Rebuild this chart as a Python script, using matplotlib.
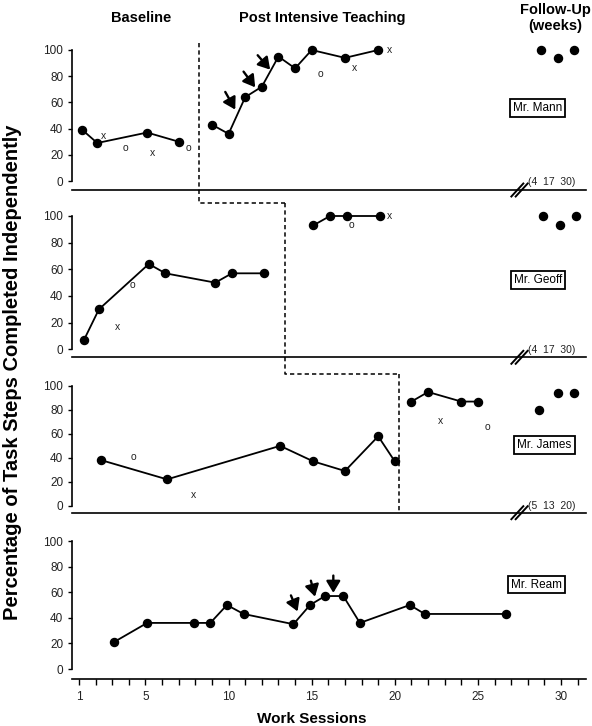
import numpy as np
import matplotlib.pyplot as plt

plt.rcParams['font.family'] = ['Liberation Sans', 'DejaVu Sans']

# ---- data (x = work session, y = % steps) ----
# Mr. Mann
mann_base_x = [1.2, 2.1, 5.1, 7.0]
mann_base_y = [39, 29, 37, 30]
mann_post_x = [9, 10, 11, 12, 13, 14, 15, 17, 19]
mann_post_y = [43, 36, 64, 72, 95, 86, 100, 94, 100]
mann_fu_x = [28.8, 29.8, 30.75]
mann_fu_y = [100, 94, 100]
mann_xprobe_x = [2.5, 5.45, 17.6, 19.7]
mann_xprobe_y = [34, 21, 86, 100]
mann_oprobe_x = [3.8, 7.6, 15.5]
mann_oprobe_y = [25, 25, 82]

# Mr. Geoff
geoff_base_x = [1.3, 2.2, 5.2, 6.2, 9.2, 10.2, 12.1]
geoff_base_y = [7, 30, 64, 57, 50, 57, 57]
geoff_post_x = [15.1, 16.1, 17.1, 19.1]
geoff_post_y = [93, 100, 100, 100]
geoff_fu_x = [28.9, 29.95, 30.9]
geoff_fu_y = [100, 93, 100]
geoff_xprobe_x = [3.3, 19.7]
geoff_xprobe_y = [17, 100]
geoff_oprobe_x = [4.2, 17.4]
geoff_oprobe_y = [48, 93]

# Mr. James
james_base_x = [2.35, 6.3, 13.1, 15.1, 17.0, 19.0, 20.0]
james_base_y = [38, 22, 50, 37, 29, 58, 37]
james_post_x = [21.0, 22.0, 24.0, 25.0]
james_post_y = [87, 95, 87, 87]
james_fu_x = [28.7, 29.8, 30.8]
james_fu_y = [80, 94, 94]
james_xprobe_x = [7.9, 22.75]
james_xprobe_y = [9, 71]
james_oprobe_x = [4.3, 25.6]
james_oprobe_y = [41, 66]

# Mr. Ream
ream_x = [3.1, 5.1, 7.9, 8.9, 9.9, 10.9, 13.9, 14.9, 15.8, 16.9, 17.9, 20.9, 21.8, 26.7]
ream_y = [21, 36, 36, 36, 50, 43, 35, 50, 57, 57, 36, 50, 43, 43]

names = ['Mr. Mann', 'Mr. Geoff', 'Mr. James', 'Mr. Ream']
fu_weeks = ['(4  17  30)', '(4  17  30)', '(5  13  20)', None]
name_pos = [(28.6, 56), (28.6, 52), (29.0, 51), (28.5, 66)]
yticks = [0, 20, 40, 60, 80, 100]
xticks = [1, 5, 10, 15, 20, 25, 30]

# ---- layout (pixel geometry of each panel) ----
W, H = 592, 726
# (pixel of value 0, pixels per unit, pixel of the baseline rule)
panel_px = [(181, 1.31, 190), (349.3, 1.333, 357.3), (505.7, 1.197, 512.7), (669, 1.28, 679)]
left_px, right_px = 71.5, 586
ytop = 108

fig = plt.figure(figsize=(W / 100, H / 100), dpi=100)
axes = []
for y0, sc, line in panel_px:
    lo = -(line - y0) / sc
    top = y0 - ytop * sc
    ax = fig.add_axes([left_px / W, 1 - line / H, (right_px - left_px) / W, (line - top) / H])
    ax.set_xlim(0.55, 31.5)
    ax.set_ylim(lo, ytop)
    ax.patch.set_visible(False)
    for s in ['top', 'right']:
        ax.spines[s].set_visible(False)
    ax.spines['left'].set_bounds(0, 100)
    ax.spines['left'].set_linewidth(1.2)
    ax.spines['bottom'].set_linewidth(1.2)
    ax.set_yticks(yticks)
    ax.tick_params(axis='y', direction='out', length=3, width=1, labelsize=8.5, pad=3, labelcolor='#222222')
    axes.append(ax)

lk = dict(color='black', marker='o', ms=5.8, lw=1.3, clip_on=False, zorder=3)
dk = dict(color='black', lw=1.1, ls=(0, (2.8, 2)), clip_on=False)
ak = dict(arrowstyle='-|>,head_length=0.7,head_width=0.42', color='black', lw=1.7,
          mutation_scale=10, shrinkA=0, shrinkB=0)


def probes(ax, xs, ys, ch):
    for x, y in zip(xs, ys):
        ax.text(x, y, ch, ha='center', va='center', fontsize=7.5, color='#222222')


def breakmark(ax, x, sc):
    lo = ax.get_ylim()[0]
    for d in (-0.13, 0.13):
        ax.plot([x + d - 0.36, x + d + 0.36], [lo - 6.5 / sc, lo + 6.5 / sc],
                color='black', lw=1.4, clip_on=False, zorder=4)


def followup(ax, xs, ys):
    ax.plot(xs, ys, ls='none', color='black', marker='o', ms=5.8, clip_on=False)


# panel 1 - Mann
ax = axes[0]
ax.plot(mann_base_x, mann_base_y, **lk)
ax.plot(mann_post_x, mann_post_y, **lk)
followup(ax, mann_fu_x, mann_fu_y)
probes(ax, mann_xprobe_x, mann_xprobe_y, 'x')
probes(ax, mann_oprobe_x, mann_oprobe_y, 'o')
for (x0, y0), (x1, y1) in [((9.8, 68), (10.4, 54.5)), ((10.9, 83.5), (11.6, 71.5)),
                           ((11.75, 96), (12.5, 85))]:
    ax.annotate('', xy=(x1, y1), xytext=(x0, y0), arrowprops=ak)
ax.plot([8.19, 8.19, 13.39], [105.3, -17.0, -17.0], **dk)

# panel 2 - Geoff
ax = axes[1]
ax.plot(geoff_base_x, geoff_base_y, **lk)
ax.plot(geoff_post_x, geoff_post_y, **lk)
followup(ax, geoff_fu_x, geoff_fu_y)
probes(ax, geoff_xprobe_x, geoff_xprobe_y, 'x')
probes(ax, geoff_oprobe_x, geoff_oprobe_y, 'o')
ax.plot([13.39, 13.39, 20.23], [109.5, -18.75, -18.75], **dk)

# panel 3 - James
ax = axes[2]
ax.plot(james_base_x, james_base_y, **lk)
ax.plot(james_post_x, james_post_y, **lk)
followup(ax, james_fu_x, james_fu_y)
probes(ax, james_xprobe_x, james_xprobe_y, 'x')
probes(ax, james_oprobe_x, james_oprobe_y, 'o')
ax.plot([20.23, 20.23], [109.8, ax.get_ylim()[0]], **dk)

# panel 4 - Ream
ax = axes[3]
ax.plot(ream_x, ream_y, **lk)
for (x0, y0), (x1, y1) in [((13.75, 57.5), (14.15, 45)), ((14.95, 69), (15.2, 56.5)),
                           ((16.3, 73), (16.3, 59.5))]:
    ax.annotate('', xy=(x1, y1), xytext=(x0, y0), arrowprops=ak)

for i, ax in enumerate(axes):
    nx, ny = name_pos[i]
    ax.text(nx, ny, names[i], ha='center', va='center', fontsize=8.5,
            bbox=dict(boxstyle='square,pad=0.25', fc='white', ec='black', lw=1.3))
    if i < 3:
        ax.set_xticks([])
        breakmark(ax, 27.5, panel_px[i][1])
        ax.text(28.0, -0.5, fu_weeks[i], ha='left', va='center', fontsize=7.5, color='#222222')
    else:
        ax.set_xticks(xticks)
        ax.set_xticks(range(1, 32), minor=True)
        ax.tick_params(axis='x', which='both', direction='out', length=4, width=1)
        ax.tick_params(axis='x', which='major', labelsize=8.5, pad=5, labelcolor='#222222')

# headers and axis titles
fig.text(141 / W, 1 - 18 / H, 'Baseline', ha='center', va='center', fontsize=10.5, fontweight='bold')
fig.text(322 / W, 1 - 18 / H, 'Post Intensive Teaching', ha='center', va='center',
         fontsize=10.5, fontweight='bold')
fig.text(555 / W, 1 - 18 / H, 'Follow-Up\n(weeks)', ha='center', va='center',
         fontsize=10.5, fontweight='bold', multialignment='center')
fig.text(312 / W, 1 - 719 / H, 'Work Sessions', ha='center', va='center', fontsize=11, fontweight='bold')
fig.text(13 / W, 1 - 372 / H, 'Percentage of Task Steps Completed Independently', ha='center',
         va='center', rotation=90, fontsize=14.5, fontweight='bold')

fig.savefig('out.png', dpi=100)
